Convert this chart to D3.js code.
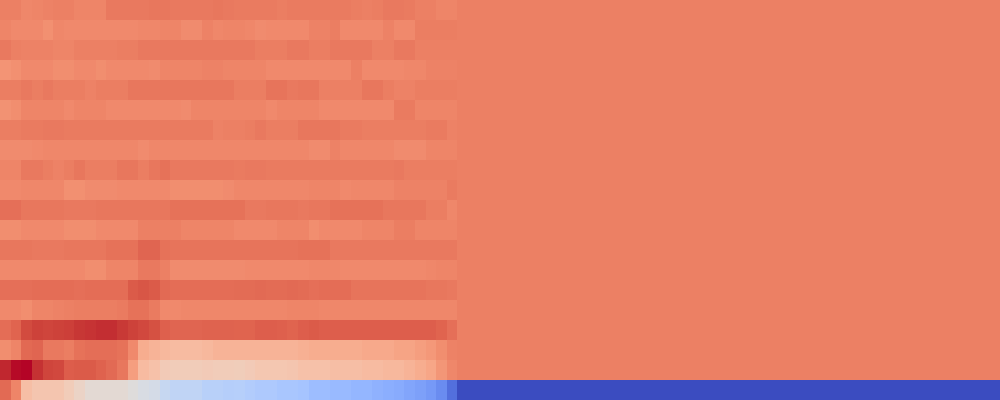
<!DOCTYPE html>
<html>
<head>
<meta charset="utf-8">
<script src="https://cdn.jsdelivr.net/npm/d3@7/dist/d3.min.js"></script>
<style>
  html, body { margin: 0; padding: 0; background: #fff; overflow: hidden; }
  svg { display: block; }
</style>
</head>
<body>
<div id="chart"></div>
<script>
// ---- data (normalised values, 0 = coolest, 1 = warmest) ----
const nCols = 94;          // total columns; columns after the measured ones are padding
const row00 = [0.81,0.81,0.795,0.80,0.805,0.81,0.81,0.80,0.80,0.80,0.825,0.825,0.825,0.825,0.83,0.83,0.825,0.825,0.825,0.825,0.83,0.825,0.82,0.82,0.82,0.82,0.815,0.82,0.82,0.82,0.82,0.82,0.82,0.815,0.81,0.815,0.825,0.825,0.82,0.81,0.81,0.80,0.80];
const row01 = [0.80,0.79,0.79,0.79,0.775,0.795,0.79,0.79,0.79,0.79,0.79,0.79,0.79,0.795,0.795,0.80,0.80,0.785,0.785,0.805,0.795,0.80,0.80,0.795,0.785,0.79,0.79,0.79,0.79,0.805,0.805,0.815,0.79,0.79,0.79,0.79,0.805,0.79,0.79,0.815,0.815,0.815,0.815];
const row02 = [0.825,0.81,0.805,0.805,0.805,0.80,0.80,0.81,0.81,0.81,0.81,0.815,0.815,0.825,0.825,0.825,0.825,0.825,0.825,0.825,0.825,0.825,0.825,0.825,0.815,0.815,0.815,0.825,0.825,0.815,0.815,0.825,0.825,0.825,0.825,0.81,0.81,0.825,0.825,0.81,0.81,0.81,0.81];
const row03 = [0.765,0.775,0.79,0.79,0.79,0.78,0.78,0.79,0.79,0.78,0.79,0.79,0.79,0.79,0.785,0.80,0.80,0.80,0.80,0.805,0.805,0.80,0.80,0.80,0.80,0.79,0.79,0.79,0.79,0.79,0.79,0.79,0.79,0.81,0.79,0.79,0.79,0.79,0.795,0.795,0.805,0.805,0.805];
const row04 = [0.815,0.815,0.825,0.815,0.825,0.815,0.815,0.815,0.805,0.815,0.815,0.815,0.83,0.83,0.83,0.83,0.83,0.83,0.83,0.83,0.83,0.83,0.815,0.815,0.815,0.835,0.835,0.825,0.83,0.83,0.81,0.81,0.81,0.81,0.83,0.83,0.815,0.805,0.805,0.815,0.815,0.815,0.815];
const row05 = [0.77,0.78,0.80,0.80,0.80,0.80,0.79,0.80,0.80,0.80,0.79,0.79,0.79,0.79,0.79,0.79,0.79,0.785,0.80,0.80,0.80,0.80,0.80,0.80,0.80,0.79,0.80,0.80,0.80,0.80,0.79,0.79,0.79,0.79,0.79,0.79,0.79,0.82,0.82,0.80,0.80,0.80,0.80];
const row06 = [0.815,0.815,0.82,0.82,0.825,0.825,0.82,0.82,0.82,0.82,0.82,0.82,0.82,0.82,0.82,0.82,0.82,0.82,0.82,0.82,0.805,0.81,0.81,0.815,0.825,0.815,0.815,0.815,0.83,0.83,0.83,0.83,0.82,0.82,0.815,0.815,0.815,0.815,0.815,0.815,0.82,0.82,0.805];
const row07 = [0.785,0.785,0.785,0.79,0.795,0.795,0.795,0.795,0.795,0.795,0.795,0.795,0.795,0.785,0.795,0.795,0.795,0.795,0.795,0.795,0.795,0.795,0.795,0.795,0.795,0.795,0.795,0.795,0.795,0.785,0.785,0.805,0.795,0.795,0.795,0.795,0.795,0.785,0.785,0.785,0.80,0.80,0.80];
const row08 = [0.80,0.80,0.825,0.825,0.815,0.805,0.815,0.83,0.815,0.815,0.815,0.83,0.83,0.815,0.83,0.84,0.825,0.825,0.825,0.825,0.825,0.825,0.82,0.825,0.825,0.82,0.82,0.82,0.82,0.82,0.82,0.82,0.82,0.82,0.82,0.82,0.82,0.825,0.815,0.815,0.815,0.815,0.815];
const row09 = [0.79,0.79,0.795,0.795,0.795,0.795,0.775,0.775,0.785,0.785,0.785,0.79,0.79,0.79,0.79,0.79,0.78,0.78,0.78,0.78,0.78,0.785,0.795,0.795,0.795,0.795,0.795,0.795,0.795,0.80,0.80,0.80,0.79,0.795,0.795,0.795,0.795,0.805,0.805,0.805,0.805,0.805,0.82];
const row10 = [0.845,0.845,0.83,0.83,0.83,0.83,0.825,0.825,0.825,0.83,0.83,0.83,0.83,0.83,0.83,0.83,0.84,0.84,0.84,0.84,0.84,0.84,0.84,0.825,0.825,0.83,0.83,0.83,0.825,0.83,0.83,0.84,0.84,0.84,0.84,0.84,0.83,0.83,0.83,0.83,0.815,0.815,0.795];
const row11 = [0.78,0.78,0.79,0.79,0.79,0.79,0.78,0.78,0.78,0.79,0.79,0.79,0.79,0.81,0.81,0.81,0.81,0.80,0.80,0.80,0.80,0.80,0.79,0.79,0.79,0.79,0.80,0.80,0.80,0.78,0.79,0.79,0.79,0.79,0.80,0.80,0.80,0.815,0.815,0.80,0.80,0.80,0.80];
const row12 = [0.83,0.83,0.83,0.825,0.825,0.825,0.83,0.83,0.83,0.83,0.84,0.84,0.84,0.865,0.865,0.84,0.835,0.835,0.835,0.835,0.835,0.835,0.835,0.835,0.835,0.835,0.835,0.835,0.84,0.84,0.84,0.825,0.825,0.825,0.825,0.825,0.825,0.825,0.825,0.825,0.825,0.825,0.825];
const row13 = [0.79,0.79,0.79,0.79,0.79,0.79,0.79,0.79,0.78,0.78,0.80,0.80,0.80,0.825,0.825,0.81,0.785,0.785,0.785,0.785,0.785,0.785,0.785,0.79,0.79,0.79,0.79,0.79,0.79,0.795,0.795,0.795,0.79,0.79,0.79,0.79,0.79,0.79,0.79,0.79,0.795,0.80,0.80];
const row14 = [0.845,0.845,0.845,0.85,0.85,0.85,0.85,0.845,0.85,0.85,0.85,0.85,0.885,0.895,0.885,0.855,0.85,0.85,0.85,0.85,0.85,0.85,0.852,0.852,0.855,0.852,0.852,0.855,0.852,0.845,0.85,0.85,0.85,0.835,0.835,0.835,0.835,0.835,0.835,0.835,0.83,0.83,0.825];
const row15 = [0.79,0.79,0.78,0.80,0.80,0.805,0.81,0.815,0.815,0.815,0.815,0.82,0.84,0.84,0.82,0.79,0.79,0.795,0.795,0.795,0.795,0.795,0.795,0.795,0.795,0.795,0.795,0.80,0.80,0.80,0.795,0.795,0.795,0.795,0.795,0.795,0.795,0.795,0.795,0.795,0.795,0.795,0.795];
const row16 = [0.85,0.868,0.915,0.93,0.925,0.93,0.935,0.948,0.953,0.96,0.96,0.945,0.93,0.92,0.905,0.875,0.865,0.865,0.865,0.87,0.87,0.87,0.868,0.868,0.878,0.878,0.875,0.868,0.878,0.885,0.878,0.878,0.878,0.878,0.878,0.878,0.878,0.878,0.878,0.878,0.878,0.868,0.845];
const row17 = [0.78,0.80,0.858,0.865,0.825,0.825,0.815,0.84,0.848,0.848,0.848,0.84,0.79,0.70,0.68,0.665,0.655,0.655,0.655,0.665,0.68,0.68,0.68,0.68,0.68,0.68,0.68,0.68,0.69,0.70,0.70,0.70,0.70,0.70,0.71,0.71,0.71,0.725,0.725,0.74,0.755,0.78,0.805];
const row18 = [0.97,0.995,1.0,0.955,0.925,0.92,0.88,0.885,0.885,0.872,0.855,0.83,0.74,0.655,0.635,0.60,0.595,0.595,0.595,0.60,0.595,0.595,0.59,0.60,0.615,0.615,0.615,0.62,0.635,0.635,0.635,0.645,0.645,0.645,0.655,0.655,0.665,0.665,0.68,0.70,0.72,0.76,0.795];
const row19 = [0.855,0.80,0.645,0.62,0.62,0.62,0.595,0.56,0.525,0.525,0.525,0.525,0.505,0.48,0.465,0.42,0.40,0.40,0.40,0.375,0.375,0.365,0.37,0.355,0.345,0.345,0.33,0.33,0.32,0.295,0.295,0.285,0.285,0.27,0.27,0.255,0.245,0.235,0.22,0.205,0.185,0.15,0.08];
// value of the padding columns for each row
const padValues = [0.81,0.81,0.81,0.81,0.81,0.81,0.81,0.81,0.81,0.81,0.81,0.81,0.81,0.81,0.81,0.81,0.81,0.81,0.81,0.0];

const rows = [row00,row01,row02,row03,row04,row05,row06,row07,row08,row09,
              row10,row11,row12,row13,row14,row15,row16,row17,row18,row19];

// coolwarm colour map stops (Moreland)
const cwStops = [0,0.03125,0.0625,0.09375,0.125,0.15625,0.1875,0.21875,0.25,0.28125,0.3125,0.34375,0.375,0.40625,0.4375,0.46875,0.5,0.53125,0.5625,0.59375,0.625,0.65625,0.6875,0.71875,0.75,0.78125,0.8125,0.84375,0.875,0.90625,0.9375,0.96875,1];
const cwColors = ["#3b4cc0","#445acc","#4d68d7","#5775e1","#6282ea","#6c8ef1","#779af7","#82a5fb","#8db0fe","#98b9ff","#a3c2ff","#aec9fd","#b8d0f9","#c2d5f4","#ccd9ee","#d5dbe6","#dddddd","#e5d8d1","#ecd3c5","#f1ccb9","#f5c4ad","#f7bba0","#f7b194","#f7a687","#f49a7b","#f18d6f","#ec7f63","#e57058","#de604d","#d55042","#cb3e38","#c0282f","#b40426"];

// ---- drawing ----
const W = 1000, H = 400;
const svg = d3.select("#chart").append("svg").attr("width", W).attr("height", H);

const x = d3.scaleBand().domain(d3.range(nCols)).range([0, W]).padding(0);
const y = d3.scaleBand().domain(d3.range(rows.length)).range([0, H]).padding(0);
const color = d3.scaleLinear().domain(cwStops).range(cwColors).interpolate(d3.interpolateRgb).clamp(true);

const cells = [];
rows.forEach((r, ri) => {
  for (let c = 0; c < nCols; c++) {
    cells.push({ r: ri, c: c, v: c < r.length ? r[c] : padValues[ri] });
  }
});

svg.append("g")
  .attr("shape-rendering", "crispEdges")
  .selectAll("rect")
  .data(cells)
  .join("rect")
  .attr("x", d => x(d.c))
  .attr("y", d => y(d.r))
  .attr("width", x.bandwidth() + 0.5)
  .attr("height", y.bandwidth())
  .attr("fill", d => color(d.v));
</script>
</body>
</html>
